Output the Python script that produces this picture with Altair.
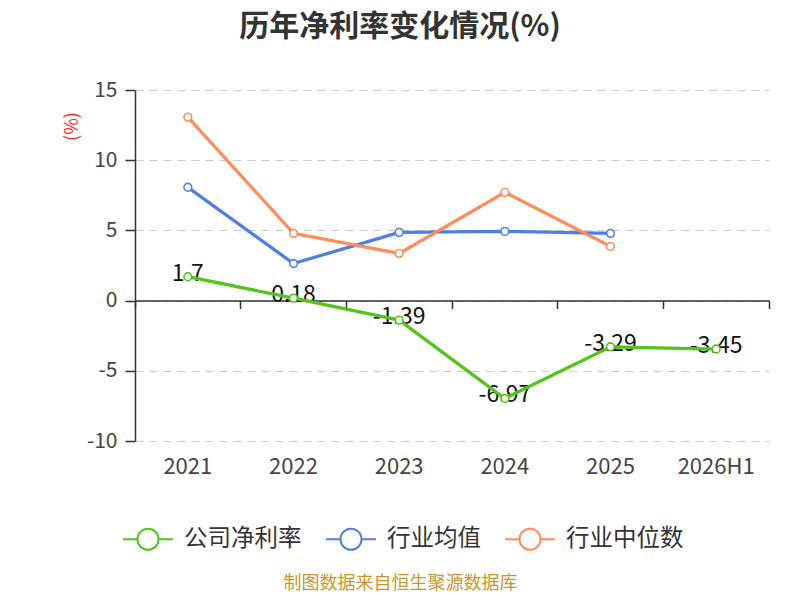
import altair as alt
import pandas as pd

years = ["2021", "2022", "2023", "2024", "2025", "2026H1"]
company = [1.7, 0.18, -1.39, -6.97, -3.29, -3.45]
ind_mean = [8.07, 2.64, 4.86, 4.93, 4.79, None]
ind_median = [13.07, 4.79, 3.36, 7.71, 3.86, None]
series_names = ["公司净利率", "行业均值", "行业中位数"]
series_colors = ["#52c41a", "#4f7fe2", "#ff8c5a"]
label_texts = ["1.7", "0.18", "-1.39", "-6.97", "-3.29", "-3.45"]

rows = []
for name, vals in zip(series_names, [company, ind_mean, ind_median]):
    for y, v in zip(years, vals):
        if v is not None:
            rows.append({"year": y, "series": name, "value": v})
df = pd.DataFrame(rows)
df_lab = pd.DataFrame({"year": years, "value": company, "label": label_texts})

FONT = "Noto Sans CJK SC"
xscale = alt.Scale(type="band", domain=years, paddingInner=0, paddingOuter=0)
yscale = alt.Scale(domain=[-10, 15], nice=False, zero=False)
stroke_scale = alt.Scale(domain=series_names, range=series_colors)

legend_path = ("M-1,0L-0.42,0M0.42,0L1,0M-0.42,0A0.42,0.42,0,1,1,0.42,0"
               "A0.42,0.42,0,1,1,-0.42,0Z")

x_main = alt.X(
    "year:N", scale=xscale, bandPosition=0.5,
    axis=alt.Axis(orient="bottom", title="制图数据来自恒生聚源数据库",
                  titleColor="#c8962c", titleFontSize=18, titleFont=FONT,
                  titleFontWeight="normal", titleX=265, titleY=142,
                  titleAnchor="start", titleAlign="center", titleBaseline="middle",
                  labelAngle=0, labelFontSize=22, labelColor="#444", labelFont=FONT,
                  labelPadding=15, domain=False, ticks=False, grid=False),
)

y_enc = alt.Y(
    "value:Q", scale=yscale,
    axis=alt.Axis(values=[-10, -5, 0, 5, 10, 15], title="(%)", titleColor="#ff2a2a",
                  labelExpr="datum.value < 0 ? '-' + abs(datum.value) : '' + datum.value",
                  titleFontSize=18, titleFont=FONT, titleFontWeight="normal",
                  titleX=-63, titleY=36, titleAlign="center", titleBaseline="middle",
                  titleAngle=-90,
                  labelFontSize=21, labelColor="#444", labelFont=FONT, labelPadding=8,
                  domainColor="#333", domainWidth=1.5, tickColor="#333", tickSize=10,
                  tickWidth=1.5, grid=True, gridColor="#cccccc", gridDash=[8, 6],
                  gridWidth=1.2),
)

stroke_enc = alt.Stroke(
    "series:N", scale=stroke_scale, sort=series_names,
    legend=alt.Legend(orient="none", legendX=-13, legendY=423, direction="horizontal",
                      title=None, symbolType=legend_path, symbolSize=2500,
                      symbolStrokeWidth=2, symbolFillColor="white",
                      labelFontSize=23.5, labelColor="#333", labelFont=FONT,
                      labelOffset=10, columnPadding=20, symbolOffset=0),
)

labels = alt.Chart(df_lab).mark_text(fontSize=23, font=FONT, color="#111",
                                     baseline="middle", dy=-3).encode(
    x=alt.X("year:N", scale=xscale, bandPosition=0.5,
            axis=alt.Axis(orient="bottom", offset=-140.5, labels=False, title=None,
                          domain=True, domainColor="#333", domainWidth=1.5,
                          ticks=True, tickColor="#333", tickWidth=1.5, tickSize=8,
                          bandPosition=1, tickExtra=True, grid=False)),
    y=alt.Y("value:Q", scale=yscale),
    text="label:N",
)
lines = alt.Chart(df).mark_line(strokeWidth=3.3).encode(
    x=x_main, y=y_enc, stroke=stroke_enc, detail="series:N"
)
points = alt.Chart(df).mark_point(filled=True, fill="white", size=60, strokeWidth=1.6,
                                  opacity=1).encode(
    x=alt.X("year:N", scale=xscale, bandPosition=0.5, axis=None),
    y=alt.Y("value:Q", scale=yscale),
    stroke=alt.Stroke("series:N", scale=stroke_scale, sort=series_names),
)

chart = alt.layer(labels, lines, points).resolve_axis(x="independent").properties(
    width=634, height=351,
    autosize=alt.AutoSizeParams(type="none"),
    padding={"left": 127, "top": 82, "right": 23, "bottom": 151},
    title=alt.TitleParams("历年净利率变化情况(%)", fontSize=30, font=FONT,
                          fontWeight="bold", color="#333", anchor="middle",
                          dx=-52, offset=7, baseline="bottom"),
).configure_view(stroke=None)

chart.save("out.html", embed_options={"renderer": "svg", "actions": False})
